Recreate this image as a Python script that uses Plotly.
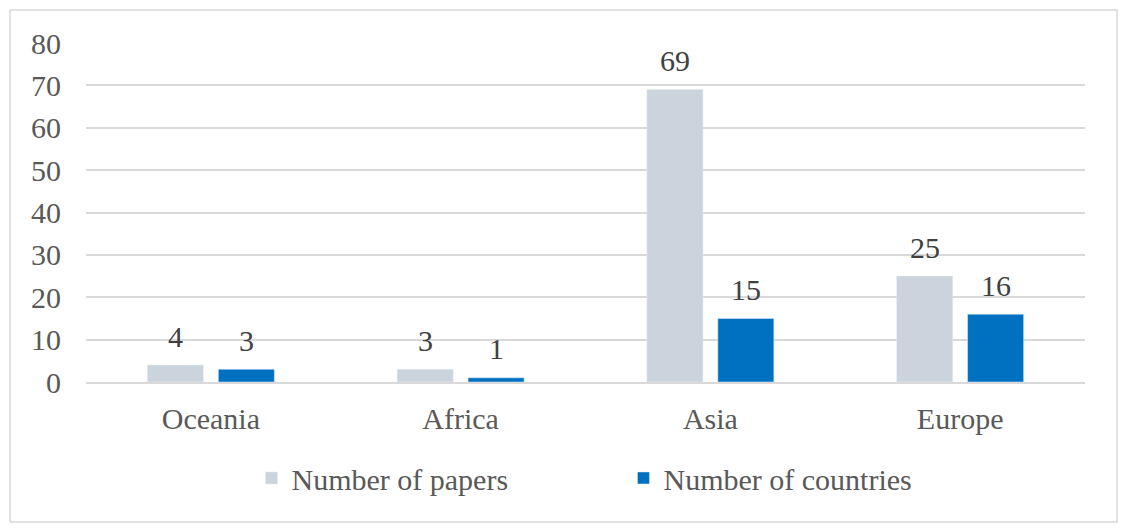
import plotly.graph_objects as go

regions = ["Oceania", "Africa", "Asia", "Europe"]
papers = [4, 3, 69, 25]
countries = [3, 1, 15, 16]

FONT = "Liberation Serif, Times New Roman, serif"
SIZE = 30

fig = go.Figure()
fig.add_trace(go.Bar(x=regions, y=papers, name="Number of papers",
                     marker_color="#CBD3DC"))
fig.add_trace(go.Bar(x=regions, y=countries, name="Number of countries",
                     marker_color="#0070C0"))

# value labels above each bar, shifted left/right to sit on their bar
for vals, dx in ((papers, -35.5), (countries, 35.5)):
    for r, v in zip(regions, vals):
        fig.add_annotation(x=r, y=v, text=str(v), showarrow=False,
                           xshift=dx, yshift=29, yanchor="middle",
                           font=dict(size=SIZE, color="#404040", family=FONT))

# page body has an 8px margin, so place everything 8px up/left
OFF = 8
L, R, T, B = 86 - OFF, 1085 - OFF, 43 - OFF, 382 - OFF
pw, ph = R - L, B - T
fig.add_shape(type="rect", xref="paper", yref="paper",
              x0=(10 - OFF - L) / pw, x1=(1117 - OFF - L) / pw,
              y0=(B - (522 - OFF)) / ph, y1=(B - (10 - OFF)) / ph,
              line=dict(color="#D9D9D9", width=1.5), layer="below")

fig.update_layout(
    width=1127, height=532,
    margin=dict(l=L, r=1127 - R, t=T, b=532 - B),
    plot_bgcolor="white", paper_bgcolor="white",
    barmode="group", bargap=0.432, bargroupgap=0.21,
    font=dict(family=FONT, size=SIZE, color="#595959"),
    legend=dict(orientation="h", x=0.538, xanchor="center", y=-0.283, yanchor="middle",
                font=dict(size=SIZE, color="#595959"),
                traceorder="normal", entrywidth=327),
    xaxis=dict(showgrid=False, showline=True, linecolor="#D9D9D9", linewidth=1.5,
               ticks="", ticklabelstandoff=9),
    yaxis=dict(range=[0, 80], dtick=10, showgrid=True, gridcolor="#D9D9D9",
               gridwidth=1.5, zeroline=False, ticks="", ticklabelstandoff=24,
               showline=False),
    showlegend=True,
)

fig.write_html("out.html")
